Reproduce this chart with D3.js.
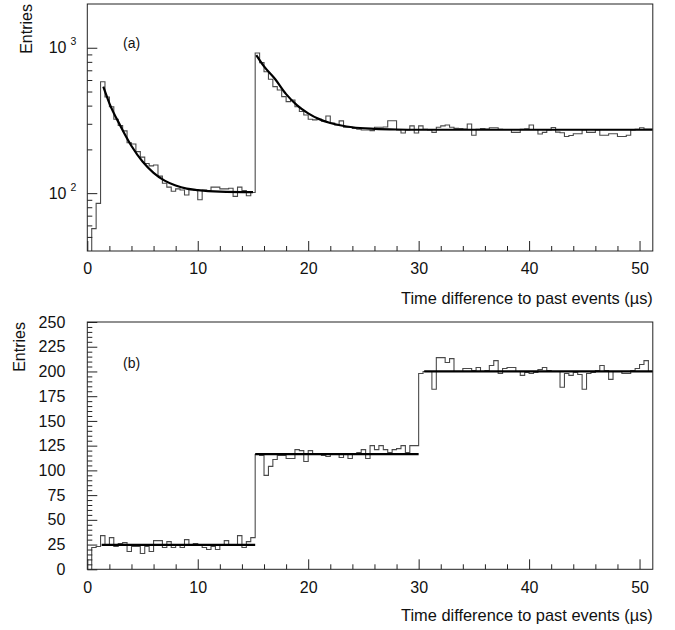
<!DOCTYPE html>
<html>
<head>
<meta charset="utf-8">
<script src="https://cdn.jsdelivr.net/npm/d3@7"></script>
<style>
  body { margin: 0; background: #fff; }
  svg { display: block; font-family: "Liberation Sans", Arial, Helvetica, sans-serif; }
</style>
</head>
<body>
<svg id="chart" width="675" height="630"></svg>
<script>
// bin width in µs, 128 bins from 0 to 51.2
const binWidth = 0.4;

// panel (a): entries per bin (log scale)
const topCounts = [
  0, 57, 85, 584, 458, 393, 322, 292, 268, 222,
  218, 193, 177, 160, 154, 156, 131, 117, 110, 103,
  107, 105, 97, 106, 105, 90, 105, 104, 110, 110,
  107, 107, 108, 95, 110, 104, 96, 101, 920, 790,
  684, 607, 540, 512, 461, 426, 437, 393, 364, 345,
  322, 319, 322, 313, 339, 303, 294, 314, 284, 284,
  279, 275, 272, 272, 269, 284, 284, 285, 315, 315,
  272, 259, 272, 290, 259, 290, 275, 272, 262, 284,
  290, 294, 284, 279, 278, 276, 299, 250, 275, 278,
  276, 282, 282, 275, 274, 274, 262, 262, 275, 277,
  294, 274, 255, 262, 272, 283, 263, 260, 245, 249,
  256, 256, 273, 262, 262, 272, 250, 250, 256, 256,
  245, 245, 250, 272, 275, 282, 276, 276
];

// panel (b): entries per bin (linear scale)
const bottomCounts = [
  0, 22, 23, 34, 24, 32, 23, 26, 27, 18,
  23, 23, 16, 23, 18, 29, 29, 22, 28, 22,
  25, 22, 30, 24, 26, 24, 22, 20, 23, 20,
  24, 29, 25, 25, 34, 22, 28, 32, 116, 115,
  95, 104, 111, 115, 115, 112, 112, 121, 120, 109,
  120, 117, 116, 115, 114, 117, 116, 113, 117, 112,
  117, 118, 121, 112, 125, 121, 125, 121, 118, 121,
  122, 125, 118, 125, 125, 198, 200, 200, 182, 214,
  214, 209, 213, 200, 200, 203, 203, 201, 204, 200,
  201, 206, 211, 198, 203, 204, 204, 200, 196, 199,
  198, 199, 202, 204, 201, 200, 200, 184, 198, 196,
  199, 197, 182, 198, 199, 201, 206, 201, 192, 200,
  200, 198, 198, 201, 203, 207, 211, 200
];

// fit curves of panel (a)
const fitEarlyT = [1.45, 2, 3, 4, 5, 6, 7, 8, 9, 10, 12, 15.0];
const fitEarlyV = [540, 415, 290, 211, 165, 138, 122, 113, 107.5, 105, 102.5, 101.6];
const fitLateT = [15.3, 16, 17, 18, 19, 20, 21, 22, 23, 24, 26, 28, 30, 40, 51.2];
const fitLateV = [891, 745, 610, 480, 402, 354, 323, 304, 292, 284, 277, 274, 273, 273, 273];

// flat fit levels of panel (b)
const levelStart = [1.3, 15.2, 30.5];
const levelEnd = [15.2, 30.0, 51.2];
const levelValue = [24.6, 116.5, 200];

// ticks
const xTicks = [0, 10, 20, 30, 40, 50];
const xMinorTicks = [2, 4, 6, 8, 12, 14, 16, 18, 22, 24, 26, 28, 32, 34, 36, 38, 42, 44, 46, 48];
const logMajorTicks = [100, 1000];
const logMinorTicks = [50, 60, 70, 80, 90, 200, 300, 400, 500, 600, 700, 800, 900];
const linTicks = [0, 25, 50, 75, 100, 125, 150, 175, 200, 225, 250];
const linMinorTicks = d3.range(0, 251, 5).filter(v => v % 25 !== 0);

const xTitle = "Time difference to past events (\u00b5s)";

const svg = d3.select("#chart");
const ink = "#222";

const x = d3.scaleLinear().domain([0, 51.2]).range([87.3, 652.8]);
const yTop = d3.scaleLog().domain([40, 2000]).range([251, 4]);
const yBottom = d3.scaleLinear().domain([0, 250]).range([569.3, 322]);

function styleAxis(g) {
  g.select(".domain").remove();
  g.attr("font-family", null).attr("font-size", 16);
  g.selectAll(".tick line").attr("stroke", ink);
  g.selectAll(".tick text").attr("fill", "#111");
}

function binPoints(counts) {
  const pts = counts.map((c, i) => [i * binWidth, c]);
  pts.push([counts.length * binWidth, counts[counts.length - 1]]);
  return pts;
}

function drawPanel(y, counts, clipId, label) {
  const [bottom, top] = y.range();
  const g = svg.append("g");

  g.append("clipPath").attr("id", clipId)
    .append("rect")
    .attr("x", x.range()[0])
    .attr("y", top)
    .attr("width", x.range()[1] - x.range()[0])
    .attr("height", bottom - top);

  const hist = d3.line()
    .x(d => x(d[0]))
    .y(d => d[1] > 0 ? y(d[1]) : bottom + 3)
    .curve(d3.curveStepAfter);

  g.append("path")
    .attr("clip-path", `url(#${clipId})`)
    .attr("d", hist(binPoints(counts)))
    .attr("fill", "none")
    .attr("stroke", "#4a4a4a")
    .attr("stroke-width", 1.1);

  // x axis, ticks pointing into the frame
  g.append("g")
    .attr("transform", `translate(0,${bottom})`)
    .call(d3.axisBottom(x).tickValues(xMinorTicks).tickSize(-5).tickFormat(""))
    .call(styleAxis);
  g.append("g")
    .attr("transform", `translate(0,${bottom})`)
    .call(d3.axisBottom(x).tickValues(xTicks).tickSize(-10).tickPadding(12))
    .call(styleAxis);

  g.append("text")
    .attr("x", x.range()[1])
    .attr("y", bottom + (clipId === "clipA" ? 53 : 52))
    .attr("text-anchor", "end")
    .attr("font-size", 16.4)
    .attr("fill", "#111")
    .text(xTitle);

  g.append("text")
    .attr("x", 123)
    .attr("y", top + (clipId === "clipA" ? 44 : 46))
    .attr("font-size", 14)
    .attr("fill", "#111")
    .text(label);

  return g;
}

function drawFrame(g, y) {
  const [bottom, top] = y.range();
  g.append("rect")
    .attr("x", x.range()[0])
    .attr("y", top)
    .attr("width", x.range()[1] - x.range()[0])
    .attr("height", bottom - top)
    .attr("fill", "none")
    .attr("stroke", ink)
    .attr("stroke-width", 1);
}

// ---- panel (a)
const gA = drawPanel(yTop, topCounts, "clipA", "(a)");

const fitLineA = d3.line()
  .x(d => x(d[0]))
  .y(d => yTop(d[1]))
  .curve(d3.curveMonotoneX);

[[fitEarlyT, fitEarlyV], [fitLateT, fitLateV]].forEach(([ts, vs]) => {
  gA.append("path")
    .attr("clip-path", "url(#clipA)")
    .attr("d", fitLineA(ts.map((t, i) => [t, vs[i]])))
    .attr("fill", "none")
    .attr("stroke", "#000")
    .attr("stroke-width", 2.2);
});

gA.append("g")
  .attr("transform", `translate(${x.range()[0]},0)`)
  .call(d3.axisLeft(yTop).tickValues(logMinorTicks).tickSize(-5).tickFormat(""))
  .call(styleAxis);
gA.append("g")
  .attr("transform", `translate(${x.range()[0]},0)`)
  .call(d3.axisLeft(yTop).tickValues(logMajorTicks).tickSize(-10).tickPadding(11).tickFormat(() => ""))
  .call(styleAxis)
  .call(g => g.selectAll(".tick text").each(function(d) {
    const t = d3.select(this);
    t.append("tspan").text("10");
    t.append("tspan")
      .attr("dx", 4)
      .attr("dy", -8)
      .attr("font-size", 10.5)
      .text(Math.round(Math.log10(d)));
  }));

gA.append("text")
  .attr("transform", "translate(32,4) rotate(-90)")
  .attr("text-anchor", "end")
  .attr("font-size", 16)
  .attr("fill", "#111")
  .text("Entries");

drawFrame(gA, yTop);

// ---- panel (b)
const gB = drawPanel(yBottom, bottomCounts, "clipB", "(b)");

gB.selectAll(".level")
  .data(levelValue)
  .join("line")
  .attr("class", "level")
  .attr("x1", (d, i) => x(levelStart[i]))
  .attr("x2", (d, i) => x(levelEnd[i]))
  .attr("y1", d => yBottom(d))
  .attr("y2", d => yBottom(d))
  .attr("stroke", "#000")
  .attr("stroke-width", 2.2);

gB.append("g")
  .attr("transform", `translate(${x.range()[0]},0)`)
  .call(d3.axisLeft(yBottom).tickValues(linMinorTicks).tickSize(-5).tickFormat(""))
  .call(styleAxis);
gB.append("g")
  .attr("transform", `translate(${x.range()[0]},0)`)
  .call(d3.axisLeft(yBottom).tickValues(linTicks).tickSize(-10).tickPadding(22))
  .call(styleAxis);

gB.append("text")
  .attr("transform", "translate(25,322) rotate(-90)")
  .attr("text-anchor", "end")
  .attr("font-size", 16)
  .attr("fill", "#111")
  .text("Entries");

drawFrame(gB, yBottom);
</script>
</body>
</html>
